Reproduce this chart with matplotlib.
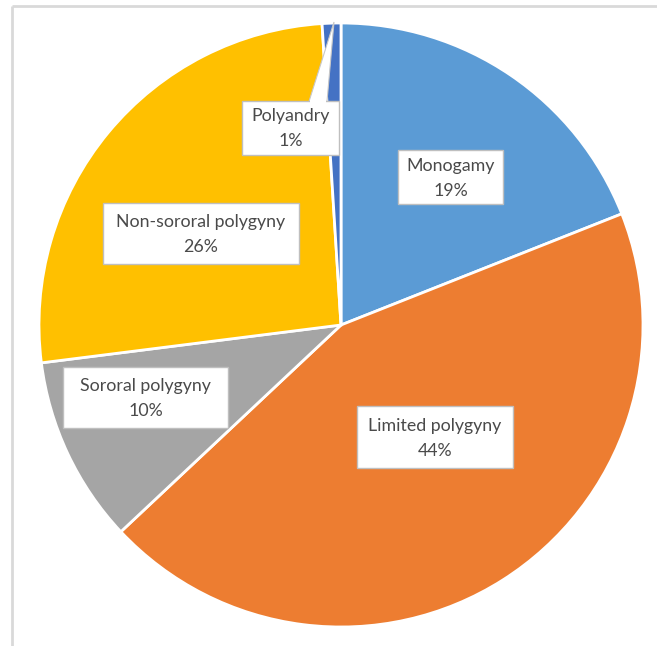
import matplotlib
matplotlib.use("Agg")
import matplotlib.pyplot as plt
from matplotlib.patches import Rectangle, Polygon

# ---- data ----
categories = ["Monogamy", "Limited polygyny", "Sororal polygyny",
              "Non-sororal polygyny", "Polyandry"]
shares = [19, 44, 10, 26, 1]
colors = ["#5B9BD5", "#ED7D31", "#A5A5A5", "#FFC000", "#4472C4"]

W, H = 657, 646
fig = plt.figure(figsize=(W / 100, H / 100), dpi=100)
ax = fig.add_axes([0, 0, 1, 1])

def Y(y):
    return H - y

cx, cy, R = 341, 325, 302
ax.pie(shares, colors=colors, startangle=90, counterclock=False,
       center=(cx, Y(cy)), radius=R, frame=True,
       wedgeprops=dict(edgecolor="white", linewidth=2))
ax.set_xlim(0, W)
ax.set_ylim(0, H)
ax.set_aspect("auto")
ax.axis("off")

# outer frame (top & left edges visible)
ax.plot([11.5, 11.5], [Y(5.5), Y(H + 5)], color="#D9D9D9", lw=2,
        solid_capstyle="butt", clip_on=False)
ax.plot([11.5, W + 5], [Y(5.5), Y(5.5)], color="#D9D9D9", lw=2,
        solid_capstyle="butt", clip_on=False)

# label boxes (left, top, right, bottom) in pixel coords
boxes = {
    "Monogamy": (398, 150, 503, 204),
    "Limited polygyny": (357, 406, 513, 468),
    "Sororal polygyny": (63, 367, 228, 428),
    "Non-sororal polygyny": (103, 203, 299, 264),
    "Polyandry": (242, 101, 339, 155),
}

# callout pointer for Polyandry
ax.add_patch(Polygon([(334, Y(22)), (309, Y(101.5)), (327, Y(101.5))],
                     closed=True, facecolor="white", edgecolor="#C8C8C8",
                     linewidth=0.8, zorder=4))

for cat, val in zip(categories, shares):
    l, t, r, b = boxes[cat]
    ax.add_patch(Rectangle((l, Y(b)), r - l, b - t, facecolor="white",
                           edgecolor="#BFBFBF", linewidth=1, zorder=5))
    mid = (t + b) / 2 + 1
    ax.text((l + r) / 2, Y(mid - 12.5), cat, ha="center", va="center",
            fontsize=12.8, family="Lato", color="#4A4A4A", zorder=6)
    ax.text((l + r) / 2, Y(mid + 12.5), f"{round(val)}%", ha="center",
            va="center", fontsize=12.8, family="Lato", color="#4A4A4A",
            zorder=6)

# white patch to cover pointer join line
ax.add_patch(Polygon([(310, Y(100)), (326, Y(100)), (326, Y(102.5)),
                      (310, Y(102.5))], closed=True, facecolor="white",
                     edgecolor="none", zorder=7))

fig.savefig("out.png", dpi=100)
